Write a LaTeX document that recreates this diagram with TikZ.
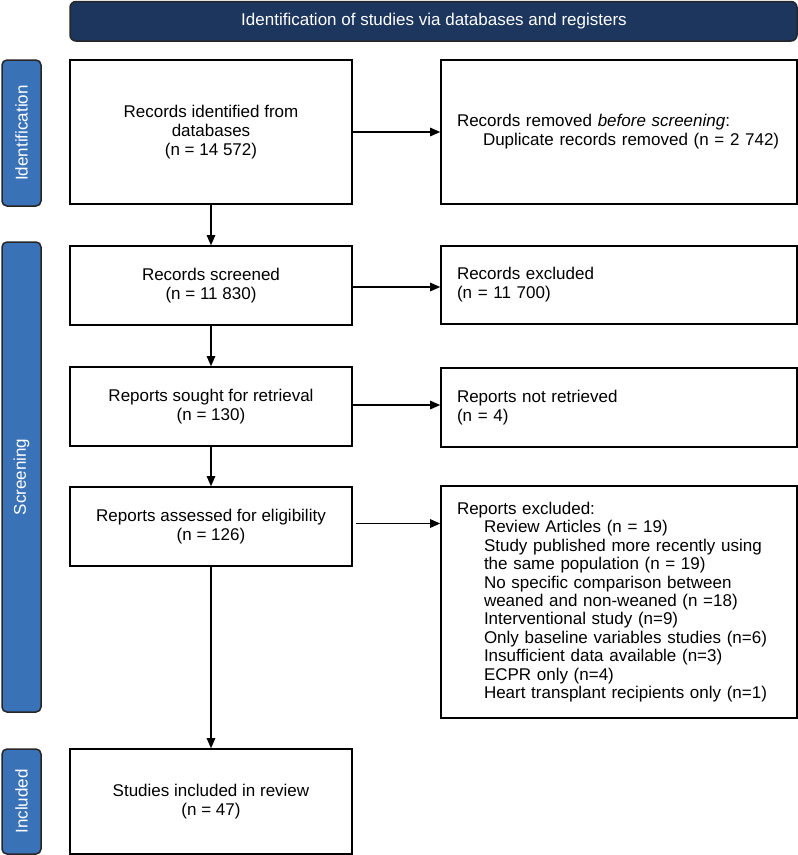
\documentclass[tikz,border=0pt]{standalone}
\usepackage{fontspec}
\setmainfont{Liberation Sans}
\usetikzlibrary{arrows.meta,positioning}
\definecolor{navy}{RGB}{28,54,94}
\definecolor{barblue}{RGB}{58,114,183}
\begin{document}
\begin{tikzpicture}[x=1pt,y=-1pt,
  box/.style={draw=black,line width=1.6pt,fill=white,inner sep=0pt,
    font=\fontsize{17}{19}\selectfont},
  lbox/.style={box,minimum width=282pt,align=center},
  rbox/.style={box,minimum width=356pt,text width=324pt,inner xsep=16pt,align=left},
  bar/.style={draw=black!85,line width=1.5pt,fill=barblue,rounded corners=5pt},
  barlabel/.style={text=white,rotate=90,font=\fontsize{17}{19}\selectfont},
  arr/.style={line width=1.1pt,-{Triangle[length=10pt,width=8.5pt]}}
]
\useasboundingbox (0,0) rectangle (798,855);
% banner
\draw[draw=black!85,line width=1.5pt,fill=navy,rounded corners=6pt] (70,1.5) rectangle (797,41);
\node[text=white,font=\fontsize{17}{19}\selectfont] (banner) at (434,21.5) {Identification of studies via databases and registers};
% side bars
\draw[bar] (2,60) rectangle (41,206);
\node[barlabel] (idlab) at (21.5,133) {Identification};
\draw[bar] (2,242) rectangle (41,712);
\node[barlabel] (scrlab) at (21.5,477) {Screening};
\draw[bar] (2,749) rectangle (41,854);
\node[barlabel] (incllab) at (21.5,801.5) {Included};
% left column
\node[lbox,minimum height=144pt] (idbox) at (211,132) {Records identified from\\databases\\(n = 14 572)};
\node[lbox,minimum height=79pt] (scr) at (211,285.5) {Records screened\\(n = 11 830)};
\node[lbox,minimum height=79pt] (sought) at (211,406.5) {Reports sought for retrieval\\(n = 130)};
\node[lbox,minimum height=79pt] (assess) at (211,526.5) {Reports assessed for eligibility\\(n = 126)};
\node[lbox,minimum height=105pt] (incl) at (211,801.5) {Studies included in review\\(n = 47)};
% right column
\node[rbox,minimum height=144pt] (rem) at (619,132) {Records removed \textit{before screening}:\\\hspace*{26pt}Duplicate records removed (n = 2 742)};
\node[rbox,minimum height=78pt] (exc) at (619,285) {Records excluded\\(n = 11 700)};
\node[rbox,minimum height=79pt] (notret) at (619,407.5) {Reports not retrieved\\(n = 4)};
\node[rbox,minimum height=232pt,font=\fontsize{17}{18.4}\selectfont] (rexc) at (619,602) {Reports excluded:\\
\hspace*{27pt}Review Articles (n = 19)\\
\hspace*{27pt}Study published more recently using\\
\hspace*{27pt}the same population (n = 19)\\
\hspace*{27pt}No specific comparison between\\
\hspace*{27pt}weaned and non-weaned (n =18)\\
\hspace*{27pt}Interventional study (n=9)\\
\hspace*{27pt}Only baseline variables studies (n=6)\\
\hspace*{27pt}Insufficient data available (n=3)\\
\hspace*{27pt}ECPR only (n=4)\\
\hspace*{27pt}Heart transplant recipients only (n=1)};
% connectors
\draw[arr] (idbox.south) -- (scr.north);
\draw[arr] (scr.south) -- (sought.north);
\draw[arr] (sought.south) -- (assess.north);
\draw[arr] (assess.south) -- (incl.north);
\draw[arr] (idbox.east) -- (idbox.east -| rem.west);
\draw[arr] ([yshift=-1.5pt]scr.east) -- ([yshift=-1.5pt]scr.east -| exc.west);
\draw[arr] ([yshift=1.5pt]sought.east) -- ([yshift=1.5pt]sought.east -| notret.west);
\draw[arr] ([xshift=3pt,yshift=3pt]assess.east) -- ([yshift=3pt]assess.east -| rexc.west);
\end{tikzpicture}
\end{document}
